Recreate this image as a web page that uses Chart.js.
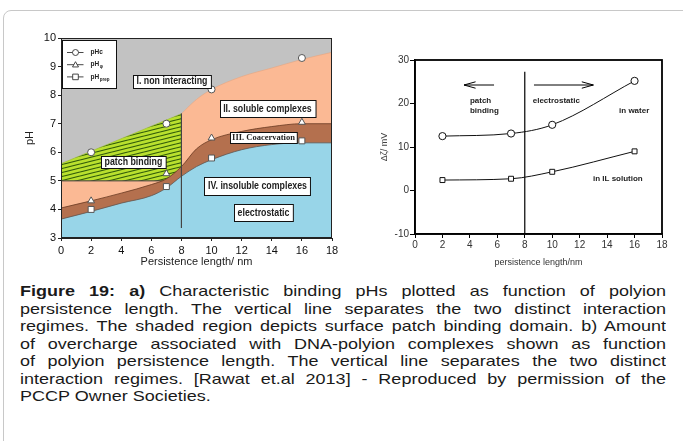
<!DOCTYPE html>
<html>
<head>
<meta charset="utf-8">
<script src="https://cdn.jsdelivr.net/npm/chart.js@4.4.0/dist/chart.umd.min.js"></script>
<style>
  body { margin: 0; width: 683px; height: 441px; overflow: hidden; position: relative; background: #fff; font-family: "Liberation Sans", Arial, sans-serif; }
  .frame { position: absolute; left: 3px; top: 10px; width: 720px; height: 480px; border: 1px solid #c8c8c8; border-radius: 8px; }
  .panel-a { position: absolute; left: 0; top: 0; width: 345px; height: 280px; }
  .panel-b { position: absolute; left: 350px; top: 30px; width: 333px; height: 250px; }
  .caption { position: absolute; left: 20px; top: 283px; width: 646px; font-size: 18px; line-height: 17.5px; color: #1a1a1a; }
  .caption div { text-align: justify; text-align-last: justify; white-space: nowrap; transform: scaleY(0.84); }
  .caption div.last { text-align-last: left; }
</style>
</head>
<body>
<div class="frame"></div>
<div class="panel-a"><canvas id="phChart"></canvas></div>
<div class="panel-b"><canvas id="zetaChart"></canvas></div>
<div class="caption">
  <div><b>Figure 19: a)</b> Characteristic binding pHs plotted as function of polyion</div>
  <div>persistence length. The vertical line separates the two distinct interaction</div>
  <div>regimes. The shaded region depicts surface patch binding domain. b) Amount</div>
  <div>of overcharge associated with DNA-polyion complexes shown as function</div>
  <div>of polyion persistence length. The vertical line separates the two distinct</div>
  <div>interaction regimes. [Rawat et.al 2013] - Reproduced by permission of the</div>
  <div class="last">PCCP Owner Societies.</div>
</div>
<script>
// Persistence length (nm) of the measured polyions
const lengthNm = [2, 7, 10, 16];

// Panel a: characteristic binding pHs
const pHc = [6.0, 7.0, 8.2, 9.3];
const pHphi = [4.3, 5.25, 6.5, 7.05];
const pHprep = [4.0, 4.8, 5.8, 6.4];

// Panel a: phase region boundaries
const patchTopX = [0, 8];
const patchTopPH = [5.6, 7.35];
const patchBottomX = [0, 8];
const patchBottomPH = [5.0, 5.0];
const solubleTopX = [8, 9, 10, 12, 14, 16, 18];
const solubleTopPH = [7.35, 7.85, 8.2, 8.65, 8.95, 9.25, 9.5];
const coacTopX = [0, 2, 4, 6, 7, 8, 9, 10, 12, 14, 16, 18];
const coacTopPH = [4.05, 4.3, 4.57, 4.87, 5.07, 5.5, 6.12, 6.44, 6.73, 6.9, 7.0, 7.0];
const insolTopX = [0, 2, 4, 6, 7, 8, 9, 10, 12, 14, 16, 18];
const insolTopPH = [3.66, 3.93, 4.22, 4.48, 4.75, 5.16, 5.5, 5.74, 6.09, 6.27, 6.33, 6.33];
const dividerPH = [7.35, 3.35];

// Panel b: overcharge in mV
const waterMV = [12.5, 13.1, 15.1, 25.2];
const ilMV = [2.4, 2.7, 4.3, 9.0];
const dividerMV = [27.3, -10];
const arrowMV = [24.25, 24.25];
const leftArrowX = [5.76, 3.57];
const rightArrowX = [8.67, 13.0];

const pts = (xs, ys) => xs.map((x, i) => ({ x: x, y: ys[i] }));

// yellow-green fill with slanted dark lines for the patch binding domain
function makeHatch() {
    const c = document.createElement('canvas');
    c.width = 16;
    c.height = 4;
    const g = c.getContext('2d');
    g.fillStyle = '#b9e02e';
    g.fillRect(0, 0, 16, 4);
    g.strokeStyle = '#2f5a0a';
    g.lineWidth = 1.1;
    [-4, 0, 4].forEach(dy => {
        g.beginPath();
        g.moveTo(0, 4 + dy);
        g.lineTo(16, dy);
        g.stroke();
    });
    return g.createPattern(c, 'repeat');
}

const sans = '"Liberation Sans", Arial, sans-serif';

function drawBox(ctx, text, cx, cy, h, font, squeeze, pad) {
    ctx.font = font;
    const w = ctx.measureText(text).width * squeeze + pad;
    const x = Math.round(cx - w / 2) + 0.5;
    const y = Math.round(cy - h / 2) + 0.5;
    ctx.fillStyle = '#fff';
    ctx.fillRect(x, y, w, h);
    ctx.strokeStyle = '#111';
    ctx.lineWidth = 1;
    ctx.strokeRect(x, y, w, h);
    ctx.save();
    ctx.translate(cx, cy + 0.5);
    ctx.scale(squeeze, 1);
    ctx.fillStyle = '#222';
    ctx.textAlign = 'center';
    ctx.textBaseline = 'middle';
    ctx.fillText(text, 0, 0);
    ctx.restore();
}

function drawSymbol(ctx, style, x, y, r) {
    ctx.beginPath();
    if (style === 'circle') {
        ctx.arc(x, y, r, 0, Math.PI * 2);
    } else if (style === 'triangle') {
        ctx.moveTo(x, y - r);
        ctx.lineTo(x + r, y + r * 0.75);
        ctx.lineTo(x - r, y + r * 0.75);
        ctx.closePath();
    } else {
        ctx.rect(x - r, y - r, r * 2, r * 2);
    }
    ctx.fillStyle = '#fff';
    ctx.fill();
    ctx.stroke();
}

// labelled regions of panel a (anchored in data units)
const regionBoxes = [
    { text: 'I. non interacting', x: 7.37, y: 8.49, h: 13 },
    { text: 'II. soluble complexes', x: 13.71, y: 7.54, h: 17 },
    { text: 'III. Coacervation', x: 13.45, y: 6.51, h: 11, serif: true },
    { text: 'patch binding', x: 4.81, y: 5.67, h: 12 },
    { text: 'IV. insoluble complexes', x: 13.05, y: 4.83, h: 18 },
    { text: 'electrostatic', x: 13.45, y: 3.9, h: 17 }
];

const legendRows = [
    { style: 'circle', main: 'pHc', sub: '' },
    { style: 'triangle', main: 'pH', sub: 'φ' },
    { style: 'rect', main: 'pH', sub: 'prep' }
];

const phAnnotations = {
    id: 'phAnnotations',
    beforeDraw(chart) {
        const { ctx, chartArea: a } = chart;
        ctx.save();
        ctx.fillStyle = '#c2c2c2';
        ctx.fillRect(a.left, a.top, a.right - a.left, a.bottom - a.top);
        ctx.restore();
    },
    afterDraw(chart) {
        const { ctx, chartArea: a, scales } = chart;
        ctx.save();
        ctx.strokeStyle = '#222';
        ctx.lineWidth = 1;
        ctx.strokeRect(a.left + 0.5, a.top + 0.5, a.right - a.left - 1, a.bottom - a.top - 1);

        regionBoxes.forEach(b => {
            const cx = scales.x.getPixelForValue(b.x);
            const cy = scales.y.getPixelForValue(b.y);
            if (b.serif) {
                drawBox(ctx, b.text, cx, cy, b.h, 'bold 8.5px "Liberation Serif", serif', 1, 4);
            } else {
                drawBox(ctx, b.text, cx, cy, b.h, 'bold 10px ' + sans, 0.88, 7);
            }
        });

        // legend box in the top-left corner
        const lx = a.left + 1.5, ly = a.top + 2.5;
        ctx.fillStyle = '#fff';
        ctx.fillRect(lx, ly, 54, 48);
        ctx.strokeStyle = '#111';
        ctx.strokeRect(lx, ly, 54, 48);
        legendRows.forEach((row, i) => {
            const y = ly + 12 + i * 12.2;
            ctx.strokeStyle = '#333';
            ctx.lineWidth = 0.9;
            ctx.beginPath();
            ctx.moveTo(lx + 4.5, y);
            ctx.lineTo(lx + 21, y);
            ctx.stroke();
            drawSymbol(ctx, row.style, lx + 13, y, row.style === 'rect' ? 2.8 : 3);
            ctx.fillStyle = '#222';
            ctx.textBaseline = 'middle';
            ctx.textAlign = 'left';
            ctx.font = 'bold 6.5px ' + sans;
            ctx.fillText(row.main, lx + 28, y);
            if (row.sub) {
                const w = ctx.measureText(row.main).width;
                ctx.font = 'bold 4.5px ' + sans;
                ctx.fillText(row.sub, lx + 28 + w + 0.5, y + 2.5);
            }
        });
        ctx.restore();
    }
};

const markerStyle = {
    showLine: false,
    pointBackgroundColor: '#fff',
    pointBorderColor: '#555',
    pointBorderWidth: 1
};

const boundaryStyle = {
    fill: 'start',
    pointRadius: 0,
    borderWidth: 0.8,
    cubicInterpolationMode: 'monotone'
};

const ctxA = document.getElementById('phChart').getContext('2d');

new Chart(ctxA, {
    type: 'line',
    data: {
        datasets: [
            { ...markerStyle, label: 'pHc', data: pts(lengthNm, pHc), pointStyle: 'circle', pointRadius: 3.5 },
            { ...markerStyle, label: 'pHφ', data: pts(lengthNm, pHphi), pointStyle: 'triangle', pointRadius: 4 },
            { ...markerStyle, label: 'pHprep', data: pts(lengthNm, pHprep), pointStyle: 'rect', pointRadius: 4.2 },
            { label: 'divider', data: pts([8, 8], dividerPH), borderColor: '#444', borderWidth: 1, pointRadius: 0 },
            { ...boundaryStyle, label: 'IV', data: pts(insolTopX, insolTopPH), backgroundColor: '#98d5e8', borderColor: '#5e5650' },
            { ...boundaryStyle, label: 'III', data: pts(coacTopX, coacTopPH), backgroundColor: '#b4704e', borderColor: '#6a3a22' },
            { ...boundaryStyle, label: 'II below patch', data: pts(patchBottomX, patchBottomPH), backgroundColor: '#fbb994', borderColor: '#3a3a3a', borderWidth: 1 },
            { ...boundaryStyle, label: 'patch', data: pts(patchTopX, patchTopPH), backgroundColor: makeHatch(), borderColor: '#9bbd2a', borderWidth: 0.6 },
            { ...boundaryStyle, label: 'II', data: pts(solubleTopX, solubleTopPH), backgroundColor: '#fbb994', borderColor: '#e8a47e', borderWidth: 0.6 }
        ]
    },
    options: {
        responsive: true,
        maintainAspectRatio: false,
        animation: false,
        layout: { padding: { top: 38, right: 13, left: 0, bottom: 0 } },
        plugins: { legend: { display: false }, tooltip: { enabled: false } },
        scales: {
            x: {
                type: 'linear',
                min: 0,
                max: 18,
                ticks: { stepSize: 2, padding: 3, color: '#111', font: { family: sans, size: 11 } },
                grid: { drawOnChartArea: false, tickLength: 3, color: '#222' },
                border: { color: '#222', width: 1 },
                title: { display: true, text: 'Persistence length/ nm', color: '#222', font: { family: sans, size: 11 }, padding: { top: 0, bottom: 11 } },
                afterFit: s => { s.height = 42; }
            },
            y: {
                min: 3,
                max: 10,
                ticks: { stepSize: 1, padding: 2, color: '#111', font: { family: sans, size: 11 } },
                grid: { drawOnChartArea: false, tickLength: 3, color: '#222' },
                border: { color: '#222', width: 1 },
                title: { display: true, text: 'pH', color: '#222', font: { family: sans, size: 11 }, padding: { top: 23, bottom: 0 } },
                afterFit: s => { s.width = 61; }
            }
        }
    },
    plugins: [phAnnotations]
});

// Panel b notes (left-aligned, anchored in data units)
const zetaNotes = [
    { text: 'patch', x: 4.0, y: 20.64 },
    { text: 'binding', x: 4.0, y: 18.34 },
    { text: 'electrostatic', x: 8.58, y: 20.64 },
    { text: 'in water', x: 14.87, y: 18.34 },
    { text: 'in IL solution', x: 12.97, y: 2.8 }
];

function arrowHead(ctx, x0, y0, x1, y1) {
    const ang = Math.atan2(y1 - y0, x1 - x0);
    const len = 12, spread = 0.27;
    ctx.beginPath();
    ctx.moveTo(x1 - len * Math.cos(ang - spread), y1 - len * Math.sin(ang - spread));
    ctx.lineTo(x1, y1);
    ctx.lineTo(x1 - len * Math.cos(ang + spread), y1 - len * Math.sin(ang + spread));
    ctx.stroke();
}

const zetaAnnotations = {
    id: 'zetaAnnotations',
    afterDraw(chart) {
        const { ctx, chartArea: a, scales } = chart;
        ctx.save();
        ctx.strokeStyle = '#000';
        ctx.lineWidth = 1.8;
        ctx.strokeRect(a.left, a.top, a.right - a.left, a.bottom - a.top);

        ctx.lineWidth = 1;
        [leftArrowX, rightArrowX].forEach(xs => {
            arrowHead(ctx,
                scales.x.getPixelForValue(xs[0]), scales.y.getPixelForValue(arrowMV[0]),
                scales.x.getPixelForValue(xs[1]), scales.y.getPixelForValue(arrowMV[1]));
        });

        ctx.fillStyle = '#222';
        ctx.font = 'bold 8px ' + sans;
        ctx.textAlign = 'left';
        ctx.textBaseline = 'middle';
        zetaNotes.forEach(n => {
            ctx.fillText(n.text, scales.x.getPixelForValue(n.x), scales.y.getPixelForValue(n.y));
        });
        ctx.restore();
    }
};

const ctxB = document.getElementById('zetaChart').getContext('2d');

new Chart(ctxB, {
    type: 'line',
    data: {
        datasets: [
            { label: 'in water', data: pts(lengthNm, waterMV), borderColor: '#111', borderWidth: 1, pointStyle: 'circle', pointRadius: 3.6, pointBackgroundColor: '#fff', pointBorderColor: '#111', pointBorderWidth: 1, cubicInterpolationMode: 'monotone' },
            { label: 'in IL solution', data: pts(lengthNm, ilMV), borderColor: '#111', borderWidth: 1, pointStyle: 'rect', pointRadius: 3.5, pointBackgroundColor: '#fff', pointBorderColor: '#111', pointBorderWidth: 1, cubicInterpolationMode: 'monotone' },
            { label: 'divider', data: pts([8, 8], dividerMV), borderColor: '#000', borderWidth: 1.2, pointRadius: 0 },
            { label: 'patch arrow', data: pts(leftArrowX, arrowMV), borderColor: '#000', borderWidth: 1, pointRadius: 0 },
            { label: 'electrostatic arrow', data: pts(rightArrowX, arrowMV), borderColor: '#000', borderWidth: 1, pointRadius: 0 }
        ]
    },
    options: {
        responsive: true,
        maintainAspectRatio: false,
        animation: false,
        layout: { padding: { top: 30, right: 21, left: 0, bottom: 0 } },
        plugins: { legend: { display: false }, tooltip: { enabled: false } },
        scales: {
            x: {
                type: 'linear',
                min: 0,
                max: 18,
                ticks: { stepSize: 2, padding: 1.5, color: '#333', font: { family: sans, size: 10 } },
                grid: { drawOnChartArea: false, tickLength: 4, color: '#000' },
                border: { color: '#000', width: 1.5 },
                title: { display: true, text: 'persistence length/nm', color: '#333', font: { family: sans, size: 9 }, padding: { top: 0, bottom: 12.5 } },
                afterFit: s => { s.height = 46; }
            },
            y: {
                min: -10,
                max: 30,
                ticks: { stepSize: 10, padding: 1, color: '#333', font: { family: sans, size: 10 } },
                grid: { drawOnChartArea: false, tickLength: 5, color: '#000' },
                border: { color: '#000', width: 1.5 },
                title: { display: true, text: 'Δζ/ mV', color: '#444', font: { family: sans, size: 9 }, padding: { top: 29.5, bottom: 0 } },
                afterFit: s => { s.width = 65; }
            }
        }
    },
    plugins: [zetaAnnotations]
});
</script>
</body>
</html>
